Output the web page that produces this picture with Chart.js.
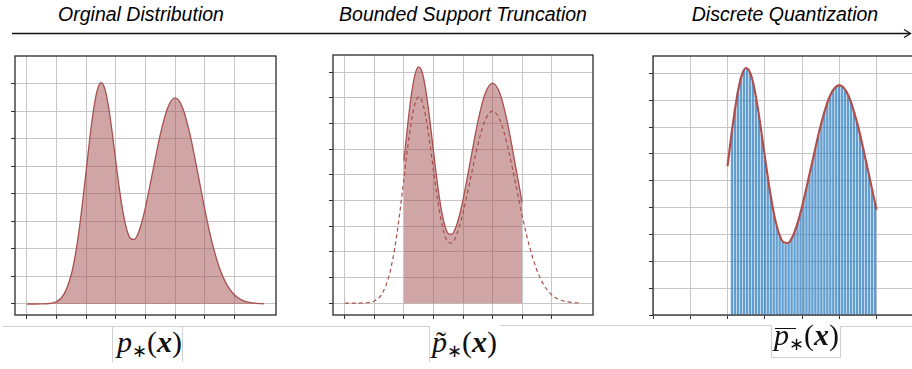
<!DOCTYPE html>
<html>
<head>
<meta charset="utf-8">
<script src="https://cdn.jsdelivr.net/npm/chart.js@4.4.0/dist/chart.umd.min.js"></script>
<style>
  html, body { margin: 0; padding: 0; background: #fff; }
  body { width: 912px; height: 369px; position: relative; overflow: hidden; }
  .title { position: absolute; top: 5px; font: italic 19.5px "Liberation Sans", Arial, sans-serif; line-height: 19px; white-space: nowrap; transform: translateX(-50%); color: #000; }
  canvas { position: absolute; }
  .rule { position: absolute; background: #d0d0d0; }
  .label { position: absolute; font-family: "Liberation Serif", serif; font-size: 30px; line-height: 30px; white-space: nowrap; color: #111; }
  .label sub { font-size: 0.6em; vertical-align: -0.3em; line-height: 0; font-style: normal; }
  .acc { position: relative; display: inline-block; }
  .tl { position: absolute; left: 4px; top: 0; font-style: normal; }
  .bar { position: absolute; left: 1px; width: 21px; top: 8px; border-top: 1.6px solid #111; }
</style>
</head>
<body>

<div class="title" style="left:141px">Orginal Distribution</div>
<div class="title" style="left:463px">Bounded Support Truncation</div>
<div class="title" style="left:785px">Discrete Quantization</div>

<svg width="912" height="369" style="position:absolute;left:0;top:0">
  <line x1="12" y1="33.5" x2="910" y2="33.5" stroke="#111" stroke-width="1.3"/>
  <polyline points="904,29.5 910.5,33.5 904,37.5" fill="none" stroke="#111" stroke-width="1.3"/>
</svg>

<canvas id="c1" width="268" height="267" style="left:10px;top:54px"></canvas>
<canvas id="c2" width="267" height="268" style="left:328px;top:53px"></canvas>
<canvas id="c3" width="305" height="267" style="left:648px;top:54px"></canvas>

<div class="rule" style="left:3px;top:326px;width:426px;height:1px"></div>
<div class="rule" style="left:112px;top:326px;width:1px;height:36px"></div>
<div class="rule" style="left:182px;top:326px;width:1px;height:36px"></div>
<div class="rule" style="left:429px;top:326px;width:1px;height:36px"></div>
<div class="rule" style="left:500px;top:325px;width:272px;height:1px"></div>
<div class="rule" style="left:771px;top:325px;width:1px;height:32px"></div>
<div class="rule" style="left:771px;top:357px;width:70px;height:1px"></div>
<div class="rule" style="left:840px;top:326px;width:1px;height:32px"></div>
<div class="rule" style="left:840px;top:326px;width:72px;height:1px"></div>

<div class="label" style="left:117px;top:327px"><i>p</i><sub>∗</sub>(<b><i>x</i></b>)</div>
<div class="label" style="left:432px;top:327px"><span class="acc"><i>p</i><span class="tl">˜</span></span><sub>∗</sub>(<b><i>x</i></b>)</div>
<div class="label" style="left:774px;top:320px"><span class="acc"><i>p</i><span class="bar"></span></span><sub>∗</sub>(<b><i>x</i></b>)</div>

<script>
// original density (grid step = 0.04)
const xCurve = [-4, -3.75, -3.5, -3.25, -3, -2.75, -2.5, -2.375, -2.25, -2.125, -2, -1.875, -1.75, -1.625, -1.5, -1.375, -1.25, -1.125, -1, -0.875, -0.75, -0.625, -0.5, -0.375, -0.25, -0.125, 0, 0.25, 0.5, 0.75, 1, 1.25, 1.5, 1.75, 2, 2.25, 2.5, 2.75, 3, 3.25, 3.5, 3.75, 4];
const yCurve = [0.0000, 0.0000, 0.0001, 0.0007, 0.0035, 0.0140, 0.0432, 0.0691, 0.1037, 0.1463, 0.1938, 0.2414, 0.2825, 0.3107, 0.3214, 0.3130, 0.2874, 0.2497, 0.2067, 0.1653, 0.1310, 0.1070, 0.0948, 0.0937, 0.1023, 0.1186, 0.1405, 0.1935, 0.2462, 0.2850, 0.2992, 0.2850, 0.2461, 0.1928, 0.1370, 0.0883, 0.0516, 0.0274, 0.0131, 0.0057, 0.0023, 0.0008, 0.0003];

// truncated + renormalised density on [-2, 2]
const xTrunc = [-2, -1.875, -1.75, -1.625, -1.5, -1.375, -1.25, -1.125, -1, -0.875, -0.75, -0.625, -0.5, -0.375, -0.25, -0.125, 0, 0.25, 0.5, 0.75, 1, 1.25, 1.5, 1.75, 2];
const yTrunc = [0.2220, 0.2765, 0.3235, 0.3559, 0.3681, 0.3585, 0.3292, 0.2860, 0.2368, 0.1893, 0.1500, 0.1226, 0.1086, 0.1073, 0.1172, 0.1358, 0.1609, 0.2216, 0.2820, 0.3264, 0.3427, 0.3264, 0.2819, 0.2208, 0.1569];

// quantized bins
const xBars = [-1.88, -1.80, -1.72, -1.64, -1.56, -1.48, -1.40, -1.32, -1.24, -1.16, -1.08, -1.00, -0.92, -0.84, -0.76, -0.68, -0.60, -0.52, -0.44, -0.36, -0.28, -0.20, -0.12, -0.04, 0.04, 0.12, 0.20, 0.28, 0.36, 0.44, 0.52, 0.60, 0.68, 0.76, 0.84, 0.92, 1.00, 1.08, 1.16, 1.24, 1.32, 1.40, 1.48, 1.56, 1.64, 1.72, 1.80, 1.88, 1.96];
const yBars = [0.2744, 0.3061, 0.3329, 0.3530, 0.3650, 0.3681, 0.3621, 0.3477, 0.3261, 0.2991, 0.2686, 0.2368, 0.2058, 0.1773, 0.1527, 0.1331, 0.1187, 0.1099, 0.1065, 0.1080, 0.1139, 0.1237, 0.1367, 0.1524, 0.1700, 0.1891, 0.2090, 0.2292, 0.2492, 0.2684, 0.2864, 0.3025, 0.3164, 0.3276, 0.3359, 0.3410, 0.3427, 0.3410, 0.3359, 0.3276, 0.3164, 0.3024, 0.2863, 0.2682, 0.2489, 0.2286, 0.2079, 0.1871, 0.1668];

const xTicks12 = [-4, -3, -2, -1, 0, 1, 2, 3];
const xTicks3 = [-4, -3, -2, -1, 0, 1, 2, 3, 4];
const yTicks1 = [0, 0.04, 0.08, 0.12, 0.16, 0.2, 0.24, 0.28, 0.32];
const yTicks23 = [0, 0.04, 0.08, 0.12, 0.16, 0.2, 0.24, 0.28, 0.32, 0.36];

const lineColor = '#a8514f';
const fillColor = 'rgba(160, 75, 75, 0.5)';
const barColor = 'rgba(38, 120, 190, 0.72)';

function pts(xs, ys) {
    return xs.map((x, i) => ({ x: x, y: ys[i] }));
}

function xScale(min, max, ticks) {
    return {
        type: 'linear', min: min, max: max, offset: false,
        afterBuildTicks: s => { s.ticks = ticks.map(v => ({ value: v })); },
        afterFit: s => { s.height = 5; },
        ticks: { display: false },
        grid: { color: '#c6c6c6', lineWidth: 1, tickColor: '#333', tickLength: 4, offset: false },
        border: { display: false }
    };
}

function yScale(min, max, ticks) {
    return {
        type: 'linear', min: min, max: max,
        afterBuildTicks: s => { s.ticks = ticks.map(v => ({ value: v })); },
        afterFit: s => { s.width = 5; },
        ticks: { display: false },
        grid: { color: '#c6c6c6', lineWidth: 1, tickColor: '#333', tickLength: 4 },
        border: { display: false }
    };
}

// box around plot area like matplotlib spines
const frame = {
    id: 'frame',
    afterDatasetsDraw(chart) {
        const { ctx, chartArea: a } = chart;
        ctx.save();
        ctx.strokeStyle = '#2a2a2a';
        ctx.lineWidth = 1.3;
        ctx.strokeRect(a.left, a.top, a.right - a.left, a.bottom - a.top);
        ctx.restore();
    }
};

const common = {
    responsive: false,
    animation: false,
    devicePixelRatio: 1,
    events: [],
    plugins: { legend: { display: false }, tooltip: { enabled: false } }
};

// Panel 1 - original distribution
new Chart(document.getElementById('c1'), {
    type: 'line',
    data: {
        datasets: [{
            data: pts(xCurve, yCurve),
            borderColor: lineColor,
            borderWidth: 1.3,
            backgroundColor: fillColor,
            fill: 'origin',
            pointRadius: 0,
            cubicInterpolationMode: 'monotone'
        }]
    },
    options: Object.assign({}, common, {
        layout: { padding: { left: 0, right: 2, top: 2, bottom: 1 } },
        scales: { x: xScale(-4.4, 4.4, xTicks12), y: yScale(-0.016, 0.36, yTicks1) }
    }),
    plugins: [frame]
});

// Panel 2 - bounded support truncation
new Chart(document.getElementById('c2'), {
    type: 'line',
    data: {
        datasets: [{
            data: pts(xCurve, yCurve),
            borderColor: lineColor,
            borderWidth: 1.2,
            borderDash: [4, 3],
            fill: false,
            pointRadius: 0,
            cubicInterpolationMode: 'monotone'
        }, {
            data: pts(xTrunc, yTrunc),
            borderColor: lineColor,
            borderWidth: 1.3,
            backgroundColor: fillColor,
            fill: 'origin',
            pointRadius: 0,
            cubicInterpolationMode: 'monotone'
        }]
    },
    options: Object.assign({}, common, {
        layout: { padding: { left: 0, right: 2, top: 2, bottom: 1 } },
        scales: { x: xScale(-4.4, 4.4, xTicks12), y: yScale(-0.0184, 0.3865, yTicks23) }
    }),
    plugins: [frame]
});

// Panel 3 - discrete quantization
new Chart(document.getElementById('c3'), {
    type: 'bar',
    data: {
        datasets: [{
            type: 'line',
            data: pts(xTrunc, yTrunc),
            borderColor: '#b14f4c',
            borderWidth: 2.2,
            fill: false,
            pointRadius: 0,
            cubicInterpolationMode: 'monotone'
        }, {
            type: 'bar',
            data: pts(xBars, yBars),
            backgroundColor: barColor,
            borderWidth: 0,
            barPercentage: 0.8,
            categoryPercentage: 1
        }]
    },
    options: Object.assign({}, common, {
        layout: { padding: { left: 0, right: 2, top: 2, bottom: 1 } },
        scales: { x: xScale(-4, 4, xTicks3), y: yScale(0, 0.386, yTicks23) }
    }),
    plugins: [frame]
});
</script>
</body>
</html>
